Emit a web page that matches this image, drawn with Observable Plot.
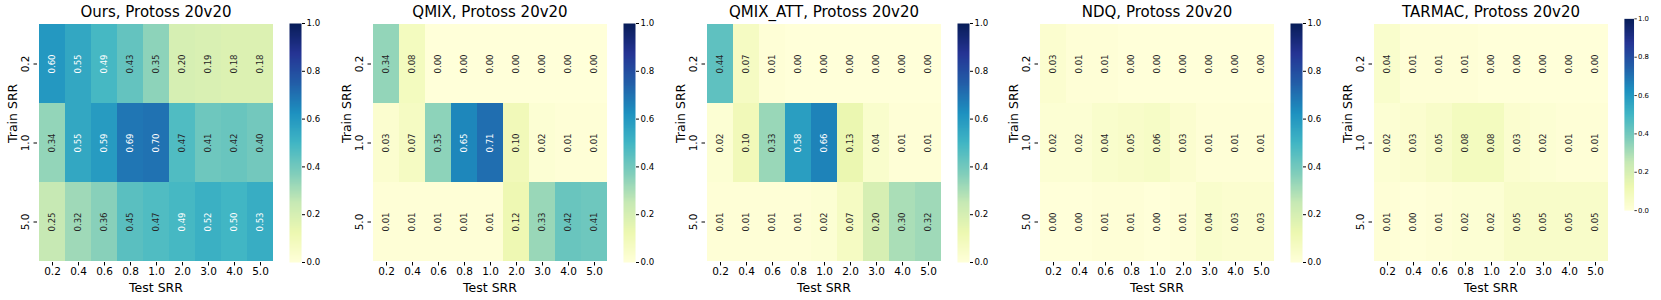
<!DOCTYPE html>
<html><head><meta charset="utf-8">
<script src="https://cdn.jsdelivr.net/npm/d3@7"></script>
<script src="https://cdn.jsdelivr.net/npm/@observablehq/plot@0.6"></script>
<style>
body{margin:0;background:#fff;}
#chart{position:relative;width:1661px;height:300px;font-family:"DejaVu Sans",sans-serif;overflow:hidden;}
#chart > div{position:absolute;top:0;}
#chart svg{overflow:visible;}
</style></head><body><div id="chart"></div>
<script>
// ---- data ----
const testSRR = ["0.2","0.4","0.6","0.8","1.0","2.0","3.0","4.0","5.0"];
const trainSRR = ["0.2","1.0","5.0"];
const titles = ["Ours, Protoss 20v20","QMIX, Protoss 20v20","QMIX_ATT, Protoss 20v20","NDQ, Protoss 20v20","TARMAC, Protoss 20v20"];
const oursValues = [
  [0.60,0.55,0.49,0.43,0.35,0.20,0.19,0.18,0.18],
  [0.34,0.55,0.59,0.69,0.70,0.47,0.41,0.42,0.40],
  [0.25,0.32,0.36,0.45,0.47,0.49,0.52,0.50,0.53]
];
const qmixValues = [
  [0.34,0.08,0.00,0.00,0.00,0.00,0.00,0.00,0.00],
  [0.03,0.07,0.35,0.65,0.71,0.10,0.02,0.01,0.01],
  [0.01,0.01,0.01,0.01,0.01,0.12,0.33,0.42,0.41]
];
const qmixAttValues = [
  [0.44,0.07,0.01,0.00,0.00,0.00,0.00,0.00,0.00],
  [0.02,0.10,0.33,0.58,0.66,0.13,0.04,0.01,0.01],
  [0.01,0.01,0.01,0.01,0.02,0.07,0.20,0.30,0.32]
];
const ndqValues = [
  [0.03,0.01,0.01,0.00,0.00,0.00,0.00,0.00,0.00],
  [0.02,0.02,0.04,0.05,0.06,0.03,0.01,0.01,0.01],
  [0.00,0.00,0.01,0.01,0.00,0.01,0.04,0.03,0.03]
];
const tarmacValues = [
  [0.04,0.01,0.01,0.01,0.00,0.00,0.00,0.00,0.00],
  [0.02,0.03,0.05,0.08,0.08,0.03,0.02,0.01,0.01],
  [0.01,0.00,0.01,0.02,0.02,0.05,0.05,0.05,0.05]
];
const panelValues = [oursValues, qmixValues, qmixAttValues, ndqValues, tarmacValues];
const colorbarTicks = [0,0.2,0.4,0.6,0.8,1.0];
// YlGnBu (matplotlib / colorbrewer, 9 stops)
const ylgnbuColors = ["#ffffd9","#edf8b1","#c7e9b4","#7fcdbb","#41b6c4","#1d91c0","#225ea8","#253494","#081d58"];
const ylgnbuStops = ylgnbuColors.map((c,i)=>i/(ylgnbuColors.length-1));

// ---- helpers ----
const colorOpts = {type:"linear", domain: ylgnbuStops, range: ylgnbuColors, interpolate:"rgb", clamp:true};
const cmap = d3.scaleLinear().domain(ylgnbuStops).range(ylgnbuColors).interpolate(d3.interpolateRgb).clamp(true);
function lum(c){
  const {r,g,b} = d3.rgb(c);
  const f = x => { x/=255; return x <= 0.03928 ? x/12.92 : Math.pow((x+0.055)/1.055, 2.4); };
  return 0.2126*f(r)+0.7152*f(g)+0.0722*f(b);
}
const isDark = d => lum(cmap(d.v)) > 0.408;

const font = "DejaVu Sans";
const W = 237, H = 239, mT = 23, mL = 37, mB = 300 - 23 - 239;
const chart = document.getElementById("chart");

panelValues.forEach((values, p) => {
  const data = [];
  values.forEach((row,i)=>row.forEach((v,j)=>data.push({train: trainSRR[i], test: testSRR[j], v})));
  const left = 37.3 + p*333.7;
  const textOpts = {x:"test", y:"train", text: d=>d.v.toFixed(2), rotate:-90, fontSize:8.6, textAnchor:"middle", lineAnchor:"middle"};
  const heat = Plot.plot({
    width: W + mL, height: 300,
    marginLeft: mL, marginRight: 0, marginTop: mT, marginBottom: mB,
    style: {fontFamily: font, background:"transparent", color:"#000"},
    x: {domain: testSRR, padding: 0},
    y: {domain: trainSRR, padding: 0},
    color: colorOpts,
    marks: [
      Plot.cell(data, {x:"test", y:"train", fill:"v"}),
      Plot.text(data.filter(isDark), {...textOpts, fill:"#262626"}),
      Plot.text(data.filter(d=>!isDark(d)), {...textOpts, fill:"white"}),
      Plot.axisX({tickSize:3.5, tickPadding:2, fontSize:10.5, label:null}),
      Plot.axisY({tickSize:3.5, tickPadding:2, text:null, label:null}),
      Plot.axisY({tickSize:0, tickPadding:8.5, tickRotate:-90, fontSize:10.5, label:null}),
      Plot.text(["Test SRR"], {frameAnchor:"bottom", dy:25.5, lineAnchor:"middle", fontSize:12.5, text:d=>d}),
      Plot.text(["Train SRR"], {frameAnchor:"left", dx:-25, rotate:-90, lineAnchor:"middle", fontSize:12.5, text:d=>d}),
      Plot.text([titles[p]], {frameAnchor:"top", dy:-11, lineAnchor:"middle", fontSize:15, text:d=>d})
    ]
  });
  const hw = document.createElement("div");
  hw.style.left = (left - mL) + "px";
  hw.appendChild(heat);
  chart.appendChild(hw);

  const cb = Plot.plot({
    width: 12 + 34, height: 300,
    marginLeft: 0, marginRight: 34, marginTop: mT, marginBottom: mB,
    style: {fontFamily: font, background:"transparent", color:"#000"},
    x: {domain:[0,1], axis:null},
    y: {domain:[0,1], axis:null},
    color: colorOpts,
    marks: [
      Plot.raster({x1:0, x2:1, y1:0, y2:1, fill:(x,y)=>y, width:1, height:256}),
      Plot.axisY(colorbarTicks, {anchor:"right", tickSize:3, tickPadding:2, tickFormat:d3.format(".1f"), fontSize:8.6, label:null})
    ]
  });
  const cw = document.createElement("div");
  cw.style.left = (left + W + 15) + "px";
  cw.appendChild(cb);
  chart.appendChild(cw);
});
</script></body></html>
